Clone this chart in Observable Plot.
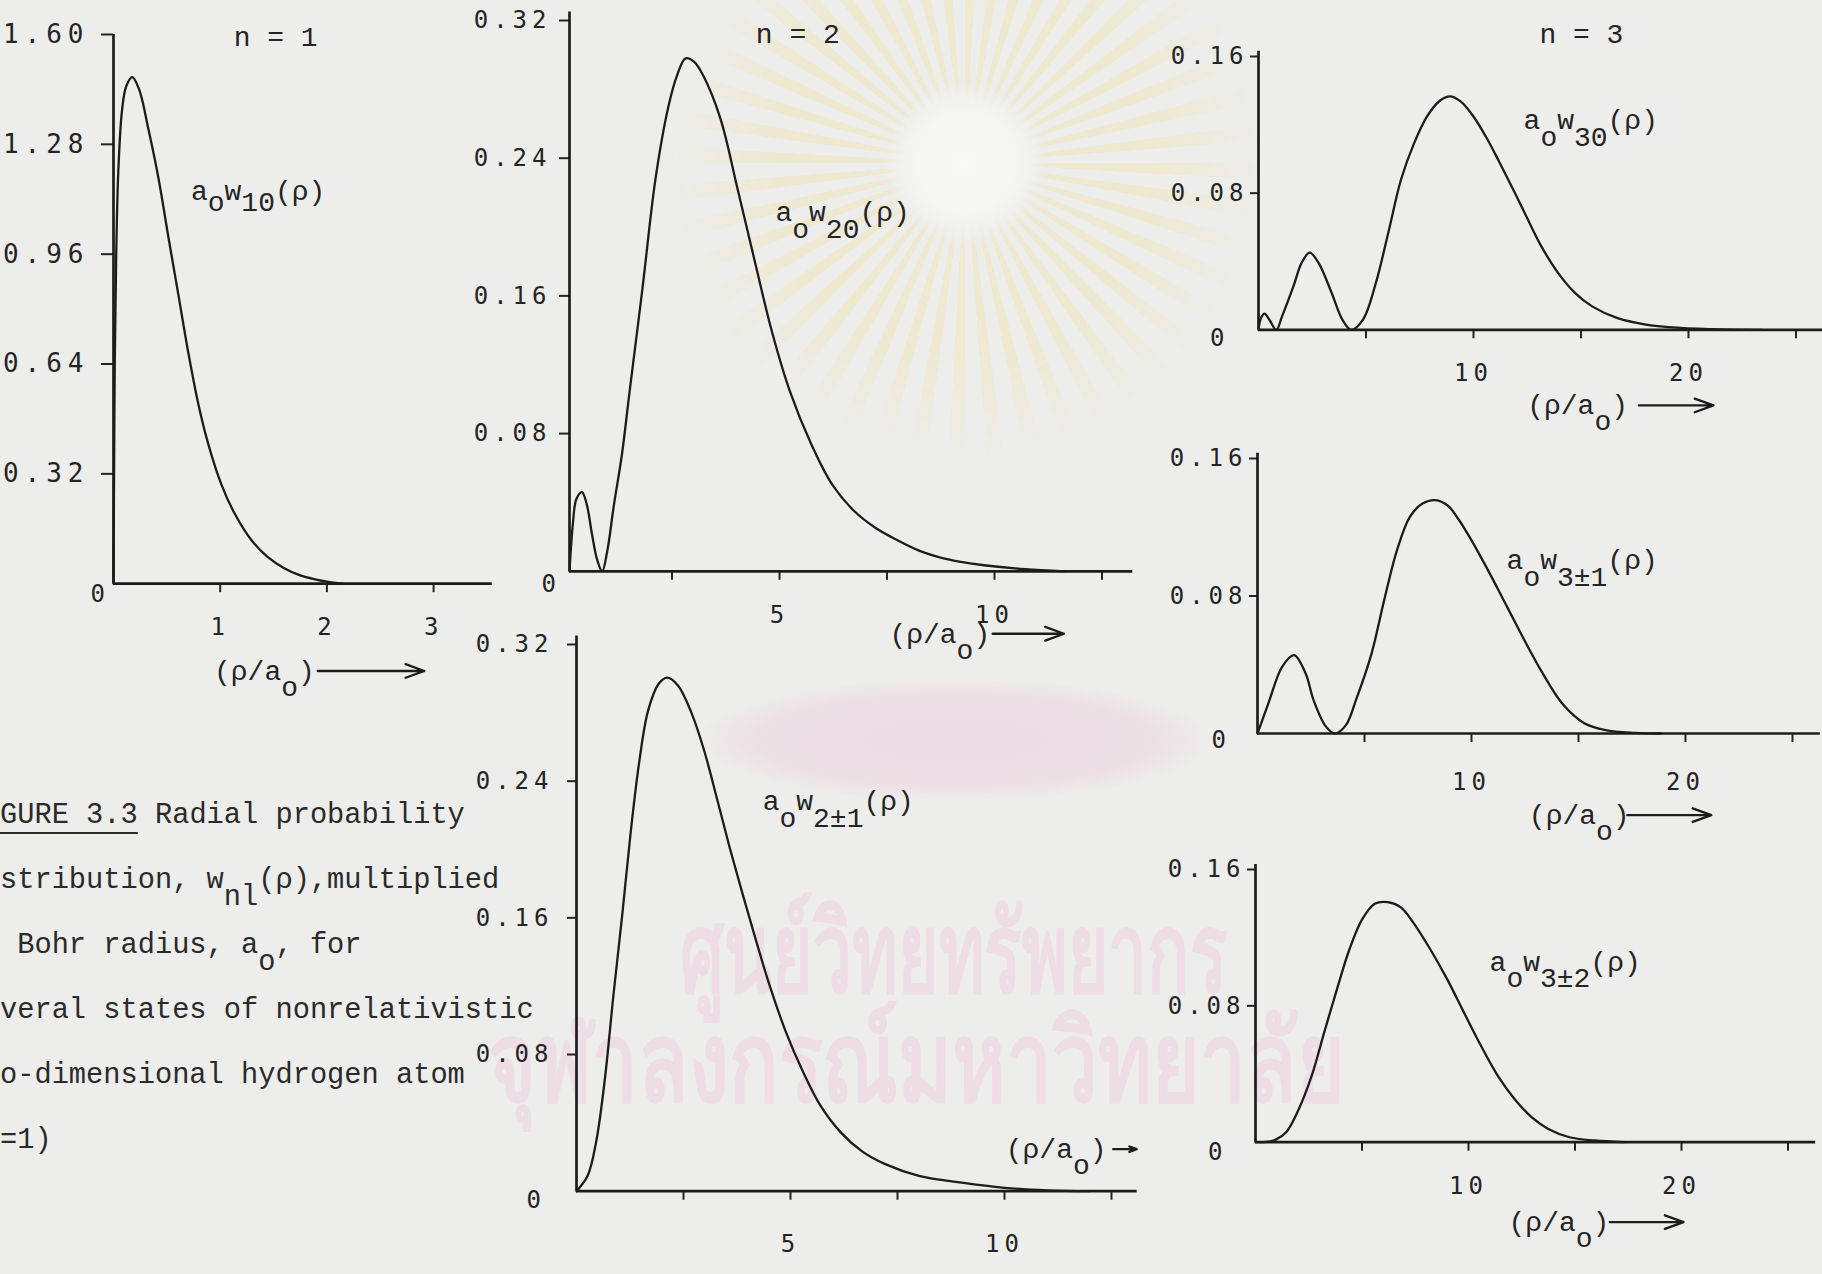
<!DOCTYPE html>
<html><head><meta charset="utf-8">
<script src="https://cdn.jsdelivr.net/npm/d3@7"></script>
<script src="https://cdn.jsdelivr.net/npm/@observablehq/plot@0.6"></script>
<style>
html,body{margin:0;padding:0;background:#ededeb;overflow:hidden}
#page{position:relative;width:1822px;height:1274px;overflow:hidden;background:#ededeb}
#page svg{position:absolute;overflow:visible;max-width:none}
[aria-label$="tick label"]{letter-spacing:5px}
.p1 [aria-label="y-axis tick label"]{letter-spacing:6px}
.caption{position:absolute;left:0;top:783px;font-family:"Liberation Mono",monospace;font-size:28.7px;line-height:65px;white-space:pre;color:#2a2a2a}
.caption .sub{position:relative;top:17px}
.caption u{text-decoration-thickness:2px;text-underline-offset:9px}
.wm{position:absolute;font-family:"Noto Sans","DejaVu Sans",sans-serif;font-weight:700;color:#eedde5;white-space:pre;transform-origin:0 0}
.rays{position:absolute;left:665px;top:-137px;width:600px;height:600px;border-radius:50%;
  background:repeating-conic-gradient(from 0deg,rgba(240,228,170,0.42) 0deg 3.2deg,transparent 3.2deg 7.5deg);
  -webkit-mask:radial-gradient(circle,transparent 0 62px,#000 85px,#000 190px,transparent 295px);
  mask:radial-gradient(circle,transparent 0 62px,#000 85px,#000 190px,transparent 295px)}
.glow{position:absolute;left:885px;top:83px;width:160px;height:160px;border-radius:50%;
  background:radial-gradient(circle,rgba(250,250,246,0.9) 0,rgba(250,250,246,0.6) 45%,rgba(250,250,246,0) 70%)}
.lens{position:absolute;left:700px;top:680px;width:510px;height:120px;border-radius:50%;
  background:radial-gradient(ellipse at center,rgba(236,208,222,0.6) 0,rgba(236,208,222,0.45) 55%,rgba(236,208,222,0) 72%)}
</style></head>
<body><div id="page">
<div class="rays"></div>
<div class="glow"></div>
<div class="lens"></div>
<div class="wm" style="left:680px;top:863px;font-size:112px;transform:scaleX(0.62)">ศูนย์วิทยทรัพยากร</div>
<div class="wm" style="left:488px;top:972px;font-size:112px;transform:scaleX(0.73)">จุฬาลงกรณ์มหาวิทยาลัย</div>
</div>
<script>
// ---- data ----
const rho10 = [0, 0.005, 0.012, 0.025, 0.045, 0.08, 0.12, 0.176, 0.24, 0.33, 0.424, 0.516, 0.609, 0.70, 0.794, 0.887, 1.01, 1.134, 1.29, 1.444, 1.60, 1.75, 1.9, 2.0, 2.15];
const w10   = [0, 0.30, 0.65, 0.95, 1.20, 1.38, 1.45, 1.476, 1.44, 1.32, 1.177, 1.007, 0.84, 0.675, 0.525, 0.408, 0.29, 0.205, 0.128, 0.078, 0.045, 0.024, 0.012, 0.006, 0];

const rho20 = [0, 0.08, 0.16, 0.29, 0.4, 0.52, 0.64, 0.76, 0.88, 1.03, 1.22, 1.4, 1.7, 2.0, 2.3, 2.5, 2.7, 2.9, 3.11, 3.51, 3.91, 4.31, 4.71, 5.12, 5.62, 6.12, 6.62, 7.13, 7.63, 8.13, 8.63, 9.1, 9.64, 10.6, 11.5];
const w20   = [0, 0.028, 0.042, 0.046, 0.039, 0.022, 0.007, 0, 0.012, 0.038, 0.068, 0.105, 0.165, 0.228, 0.27, 0.288, 0.298, 0.296, 0.288, 0.263, 0.222, 0.180, 0.139, 0.105, 0.074, 0.05, 0.035, 0.025, 0.018, 0.012, 0.008, 0.0055, 0.0035, 0.0012, 0];

const rho21 = [0, 0.26, 0.46, 0.66, 0.86, 1.07, 1.27, 1.47, 1.67, 1.92, 2.12, 2.37, 2.67, 2.97, 3.28, 3.58, 3.88, 4.18, 4.48, 4.88, 5.29, 5.69, 6.19, 6.69, 7.2, 8.0, 9.0, 10.0, 11.0, 12.0];
const w21   = [0, 0.009, 0.029, 0.065, 0.114, 0.162, 0.211, 0.252, 0.281, 0.297, 0.3006, 0.296, 0.281, 0.259, 0.230, 0.201, 0.174, 0.148, 0.123, 0.094, 0.070, 0.0505, 0.034, 0.023, 0.016, 0.009, 0.005, 0.002, 0.0005, 0];

const rho30 = [0, 0.12, 0.28, 0.5, 0.83, 1.1, 1.64, 2.0, 2.38, 2.8, 3.39, 3.9, 4.31, 4.86, 5.45, 6.04, 6.63, 7.23, 7.82, 8.41, 8.9, 9.4, 9.99, 10.58, 11.17, 11.77, 12.36, 13.15, 13.94, 14.73, 15.52, 16.7, 18.08, 19.07, 21.0, 23.4];
const w30   = [0, 0.007, 0.0095, 0.006, 0, 0.008, 0.026, 0.039, 0.0452, 0.039, 0.022, 0.006, 0, 0.006, 0.027, 0.057, 0.088, 0.109, 0.1245, 0.1338, 0.1366, 0.1337, 0.125, 0.113, 0.099, 0.084, 0.069, 0.049, 0.0332, 0.0215, 0.0137, 0.0068, 0.0029, 0.0016, 0.0004, 0];

const rho31 = [0, 0.52, 1.15, 1.71, 2.25, 2.62, 3.2, 3.63, 4.14, 4.6, 5.33, 5.92, 6.52, 7.12, 7.71, 8.31, 8.9, 9.4, 9.9, 10.4, 10.9, 11.4, 11.9, 12.4, 13.28, 14.27, 15.27, 16.26, 17.65, 18.85];
const w31   = [0, 0.018, 0.0388, 0.0456, 0.0349, 0.0194, 0.004, 0, 0.005, 0.0194, 0.0465, 0.0776, 0.1067, 0.126, 0.1338, 0.1358, 0.1325, 0.1245, 0.1145, 0.1035, 0.092, 0.080, 0.068, 0.056, 0.036, 0.017, 0.006, 0.002, 0.0004, 0];

const rho32 = [0, 0.6, 0.95, 1.45, 2.04, 2.64, 3.23, 3.83, 4.42, 5.02, 5.62, 6.21, 6.81, 7.4, 8.19, 8.99, 9.78, 10.58, 11.37, 12.16, 12.96, 13.75, 14.74, 15.93, 17.3];
const w32   = [0, 0.0003, 0.0015, 0.006, 0.0196, 0.039, 0.0646, 0.09, 0.1135, 0.131, 0.140, 0.1408, 0.1379, 0.129, 0.1135, 0.0958, 0.0763, 0.0567, 0.0391, 0.0254, 0.0147, 0.0078, 0.0029, 0.001, 0];

// ---- tick labels ----
const xTicks1 = [1, 2, 3];                 const xTickLabels1 = ["1", "2", "3"];
const xTicks2 = [2.5, 5, 7.5, 10, 12.5];   const xTickLabels2 = ["", "5", "", "10", ""];
const xTicks3 = [5, 10, 15, 20, 25];       const xTickLabels3 = ["", "10", "", "20", ""];
const yTicks1 = [0.32, 0.64, 0.96, 1.28, 1.60]; const yTickLabels1 = ["0.32", "0.64", "0.96", "1.28", "1.60"];
const yTicks2 = [0.08, 0.16, 0.24, 0.32];  const yTickLabels2 = ["0.08", "0.16", "0.24", "0.32"];
const yTicks3 = [0.08, 0.16];              const yTickLabels3 = ["0.08", "0.16"];
const zeroLabel = "0";

// ---- texts ----
const titles = ["n = 1", "n = 2", "n = 3"];
const curveLabels = ["a~o~w~10~(ρ)", "a~o~w~20~(ρ)", "a~o~w~2±1~(ρ)", "a~o~w~30~(ρ)", "a~o~w~3±1~(ρ)", "a~o~w~3±2~(ρ)"];
const axisLabel = "(ρ/a~o~)";
const captionLines = [
  "<u>GURE 3.3</u> Radial probability",
  "stribution, w<span class=\"sub\">nl</span>(ρ),multiplied",
  " Bohr radius, a<span class=\"sub\">o</span>, for",
  "veral states of nonrelativistic",
  "o-dimensional hydrogen atom",
  "=1)"
];

// ---- layout (page pixels) ----
const panels = [
  {cls:"p1", left:112.5, kx:106.7, xMax:3.55, oy:582.7, topPx:33.5, yMax:1.6, axisTop:1.6,
   rho:rho10, w:w10, xt:xTicks1, xl:xTickLabels1, yt:yTicks1, yl:yTickLabels1, yFont:26,
   ySize:12, yPad:12, xSize:9, xPad:25, xdx:0, zdx:-15.8, zdy:10.6,
   title:{t:titles[0], x:1.52, y:1.594}, cl:{t:curveLabels[0], x:0.726, y:1.144, sub:11},
   al:{x:0.942, y:-0.2543, x1:1.914, x2:2.913}},
  {cls:"p2a", left:569, kx:43, xMax:13.1, oy:571, topPx:20.2, yMax:0.32, axisTop:0.325,
   rho:rho20, w:w20, xt:xTicks2, xl:xTickLabels2, yt:yTicks2, yl:yTickLabels2, yFont:24,
   ySize:10, yPad:8, xSize:9, xPad:26, xdx:-5, zdx:-20.7, zdy:12.6,
   title:{t:titles[1], x:5.31, y:0.3122}, cl:{t:curveLabels[1], x:4.79, y:0.2086, sub:17},
   al:{x:7.44, y:-0.0363, x1:9.84, x2:11.5}},
  {cls:"p2b", left:576, kx:42.8, xMax:13.1, oy:1190.7, topPx:644, yMax:0.32, axisTop:0.325,
   rho:rho21, w:w21, xt:xTicks2, xl:xTickLabels2, yt:yTicks2, yl:yTickLabels2, yFont:24,
   ySize:9, yPad:14, xSize:9, xPad:35, xdx:0, zdx:-42.7, zdy:9.3,
   title:null, cl:{t:curveLabels[2], x:4.35, y:0.2286, sub:17},
   al:{x:10.03, y:0.0246, x1:12.54, x2:13.09}},
  {cls:"p3a", left:1258, kx:21.5, xMax:26.3, oy:329.3, topPx:56, yMax:0.16, axisTop:0.163,
   rho:rho30, w:w30, xt:xTicks3, xl:xTickLabels3, yt:yTicks3, yl:yTickLabels3, yFont:24,
   ySize:8, yPad:2, xSize:9, xPad:25, xdx:0, zdx:-41.3, zdy:9,
   title:{t:titles[2], x:15.02, y:0.1733}, cl:{t:curveLabels[3], x:12.33, y:0.123, sub:17},
   al:{x:12.5, y:-0.0443, x1:17.69, x2:21.16}},
  {cls:"p3b", left:1257, kx:21.4, xMax:26.3, oy:733.3, topPx:458.3, yMax:0.16, axisTop:0.163,
   rho:rho31, w:w31, xt:xTicks3, xl:xTickLabels3, yt:yTicks3, yl:yTickLabels3, yFont:24,
   ySize:8, yPad:2, xSize:9, xPad:30, xdx:0, zdx:-38.7, zdy:6.7,
   title:null, cl:{t:curveLabels[4], x:11.64, y:0.1012, sub:17},
   al:{x:12.68, y:-0.0475, x1:17.28, x2:21.21}},
  {cls:"p3c", left:1255.3, kx:21.3, xMax:26.3, oy:1141.7, topPx:869, yMax:0.16, axisTop:0.163,
   rho:rho32, w:w32, xt:xTicks3, xl:xTickLabels3, yt:yTicks3, yl:yTickLabels3, yFont:24,
   ySize:8, yPad:2, xSize:9, xPad:26, xdx:0, zdx:-40.4, zdy:10,
   title:null, cl:{t:curveLabels[5], x:10.99, y:0.106, sub:17},
   al:{x:11.88, y:-0.0469, x1:16.63, x2:20.1}}
];

const INK = "#1c1c1c";
const TXT = "#242424";
const page = document.getElementById("page");

function applySubscripts(svg, subCurve, subAxis) {
  svg.querySelectorAll("text").forEach(t => {
    const s = t.textContent;
    if (!s.includes("~")) return;
    const sub = s.startsWith("(") ? subAxis : subCurve;
    const parts = s.split("~");
    t.textContent = "";
    let prevSub = false;
    parts.forEach((p, i) => {
      const isSub = i % 2 === 1;
      const ts = document.createElementNS("http://www.w3.org/2000/svg", "tspan");
      if (isSub !== prevSub) ts.setAttribute("dy", isSub ? sub : -sub);
      ts.textContent = p;
      t.appendChild(ts);
      prevSub = isSub;
    });
  });
}

panels.forEach(cfg => {
  const mL = 150, mR = 20, mT = 70, mB = 120;
  const plotW = cfg.xMax * cfg.kx, plotH = cfg.oy - cfg.topPx;
  const data = cfg.rho.map((r, i) => ({rho: r, w: cfg.w[i]}));
  const fx = new Map(cfg.xt.map((t, i) => [t, cfg.xl[i]]));
  const fy = new Map(cfg.yt.map((t, i) => [t, cfg.yl[i]]));
  const marks = [
    Plot.axisX({ticks: cfg.xt, tickFormat: d => fx.get(d) ?? "", tickSize: cfg.xSize, tickPadding: cfg.xPad, dx: cfg.xdx, strokeWidth: 2, label: null, fontSize: 24}),
    Plot.axisY({ticks: cfg.yt, tickFormat: d => fy.get(d) ?? "", tickSize: cfg.ySize, tickPadding: cfg.yPad, strokeWidth: 2, label: null, fontSize: cfg.yFont}),
    Plot.ruleY([0], {x1: 0, x2: cfg.xMax, stroke: INK, strokeWidth: 2.7}),
    Plot.ruleX([0], {y1: 0, y2: cfg.axisTop, stroke: INK, strokeWidth: 2.7}),
    Plot.line(data, {x: "rho", y: "w", curve: "catmull-rom", stroke: INK, strokeWidth: 2.3}),
    Plot.text([{x: 0, y: 0, t: zeroLabel}], {x: "x", y: "y", text: "t", dx: cfg.zdx, dy: cfg.zdy, fontFamily: "DejaVu Sans Mono", fontSize: 24, fill: TXT}),
    Plot.text([cfg.cl], {x: "x", y: "y", text: "t", textAnchor: "start", fontFamily: "Liberation Mono", fontSize: 28, fill: TXT}),
    Plot.text([cfg.al], {x: "x", y: "y", text: () => axisLabel, textAnchor: "start", fontFamily: "Liberation Mono", fontSize: 28, fill: TXT}),
    Plot.arrow([cfg.al], {x1: "x1", x2: "x2", y1: "y", y2: "y", stroke: INK, strokeWidth: 2.3, headLength: 13, headAngle: 40})
  ];
  if (cfg.title) marks.push(Plot.text([cfg.title], {x: "x", y: "y", text: "t", fontFamily: "Liberation Mono", fontSize: 28, fill: TXT}));
  const svg = Plot.plot({
    width: mL + plotW + mR, height: mT + plotH + mB,
    marginLeft: mL, marginRight: mR, marginTop: mT, marginBottom: mB,
    style: {background: "transparent", fontFamily: "DejaVu Sans Mono", fontSize: "24px", color: TXT, overflow: "visible"},
    x: {domain: [0, cfg.xMax], range: [mL, mL + plotW]},
    y: {domain: [0, cfg.yMax], range: [mT + plotH, mT]},
    marks
  });
  svg.classList.add(cfg.cls);
  applySubscripts(svg, cfg.cl.sub, 16);
  svg.style.left = (cfg.left - mL) + "px";
  svg.style.top = (cfg.topPx - mT) + "px";
  page.appendChild(svg);
});

const cap = document.createElement("div");
cap.className = "caption";
cap.innerHTML = captionLines.join("\n");
page.appendChild(cap);
</script>
</body></html>
